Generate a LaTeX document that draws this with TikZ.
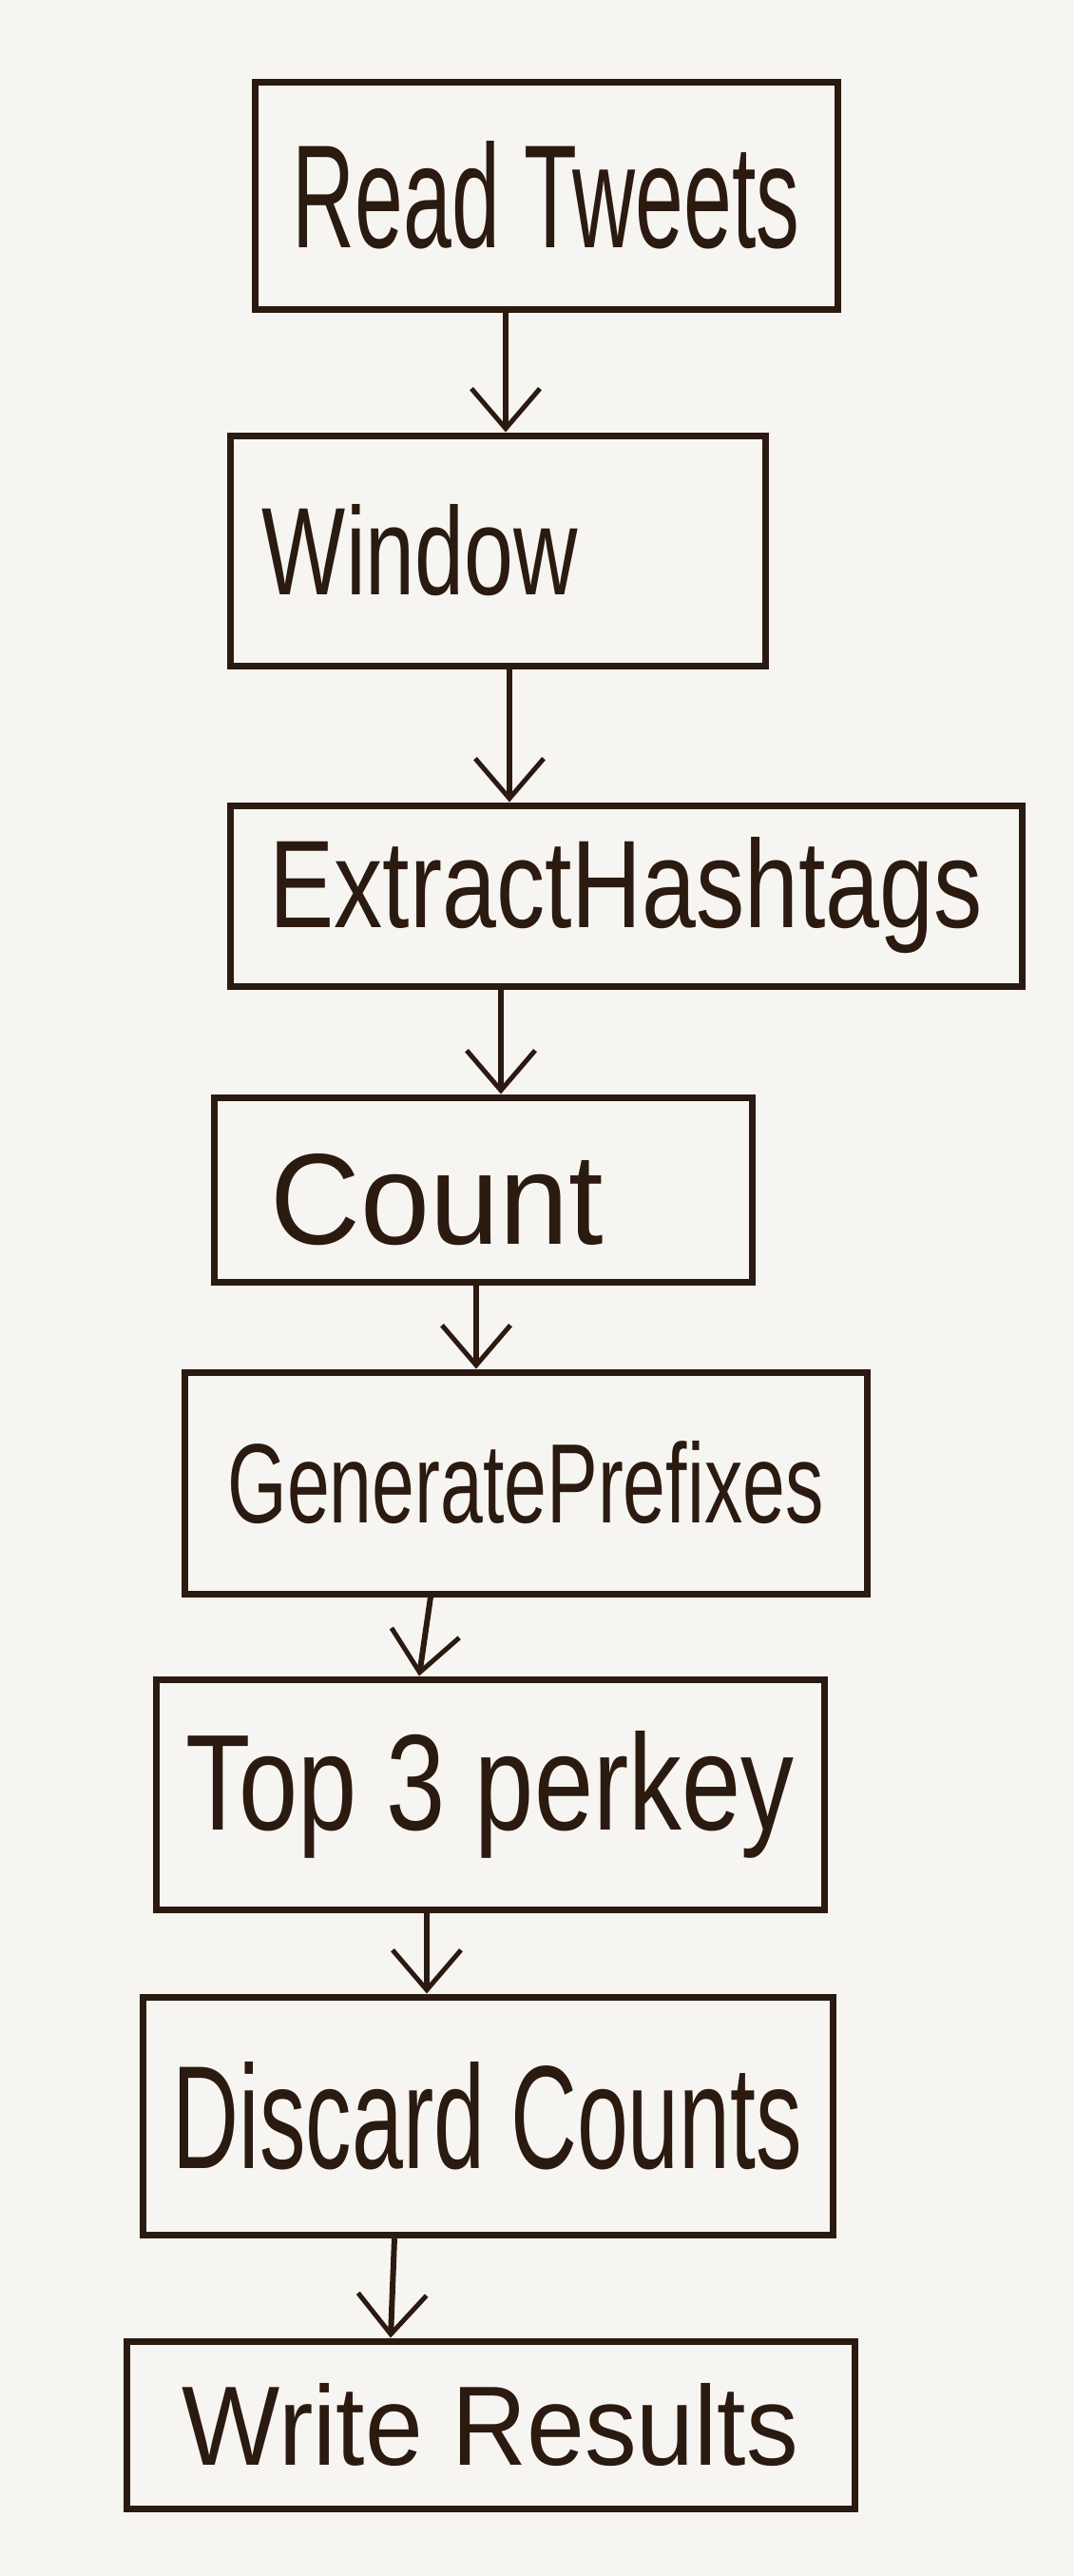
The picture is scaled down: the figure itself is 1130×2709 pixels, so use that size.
\documentclass[tikz,border=0pt]{standalone}
\usepackage{fontspec}
\setmainfont{Liberation Sans}
\usetikzlibrary{arrows.meta}
\definecolor{ink}{HTML}{2B1A10}
\definecolor{paper}{HTML}{F7F5F2}
\newcommand{\fit}[3]{\resizebox{#1pt}{#2pt}{#3}}
\tikzset{
  stepbox/.style={draw=ink, line width=7pt, rectangle, inner sep=0pt, text=ink},
  arr/.style={draw=ink, line width=6pt, -{Straight Barb[length=42pt,width=72pt,line width=5pt]}}
}
\begin{document}
\begin{tikzpicture}[x=1pt,y=-1pt]
\fill[paper] (0,0) rectangle (1130,2709);
\useasboundingbox (0,0) rectangle (1130,2709);
\node[stepbox, minimum width=613pt, minimum height=239pt] (n1) at (574.5,205.5) {\fit{533}{112}{Read Tweets}};
\node[stepbox, minimum width=563pt, minimum height=242pt] (n2) at (523.5,579) {};
\node at (442,579) {\textcolor{ink}{\fit{332}{95}{Window}}};
\node[stepbox, minimum width=833pt, minimum height=190pt] (n3) at (658.5,942) {\fit{750}{95}{ExtractHashtags}};
\node[stepbox, minimum width=566pt, minimum height=194pt] (n4) at (508,1251) {};
\node at (460,1262) {\textcolor{ink}{\fit{350}{95}{Count}}};
\node[stepbox, minimum width=718pt, minimum height=233pt] (n5) at (553,1559.5) {\fit{627}{86}{GeneratePrefixes}};
\node[stepbox, minimum width=703pt, minimum height=242pt] (n6) at (515.5,1887) {\fit{640}{104}{Top 3 perkey}};
\node[stepbox, minimum width=726pt, minimum height=250pt] (n7) at (513,2225) {\fit{662}{112}{Discard Counts}};
\node[stepbox, minimum width=766pt, minimum height=176pt] (n8) at (516,2550) {\fit{648}{86}{Write Results}};
\draw[arr] ([xshift=-42.5pt]n1.south) -- ([xshift=8.5pt]n2.north);
\draw[arr] ([xshift=12.5pt]n2.south) -- ([xshift=-122.5pt]n3.north);
\draw[arr] ([xshift=-131.5pt]n3.south) -- ([xshift=19pt]n4.north);
\draw[arr] ([xshift=-7pt]n4.south) -- ([xshift=-52pt]n5.north);
\draw[arr] ([xshift=-100pt]n5.south) -- ([xshift=-74.5pt]n6.north);
\draw[arr] ([xshift=-66.5pt]n6.south) -- ([xshift=-64pt]n7.north);
\draw[arr] ([xshift=-98pt]n7.south) -- ([xshift=-105pt]n8.north);
\end{tikzpicture}
\end{document}
